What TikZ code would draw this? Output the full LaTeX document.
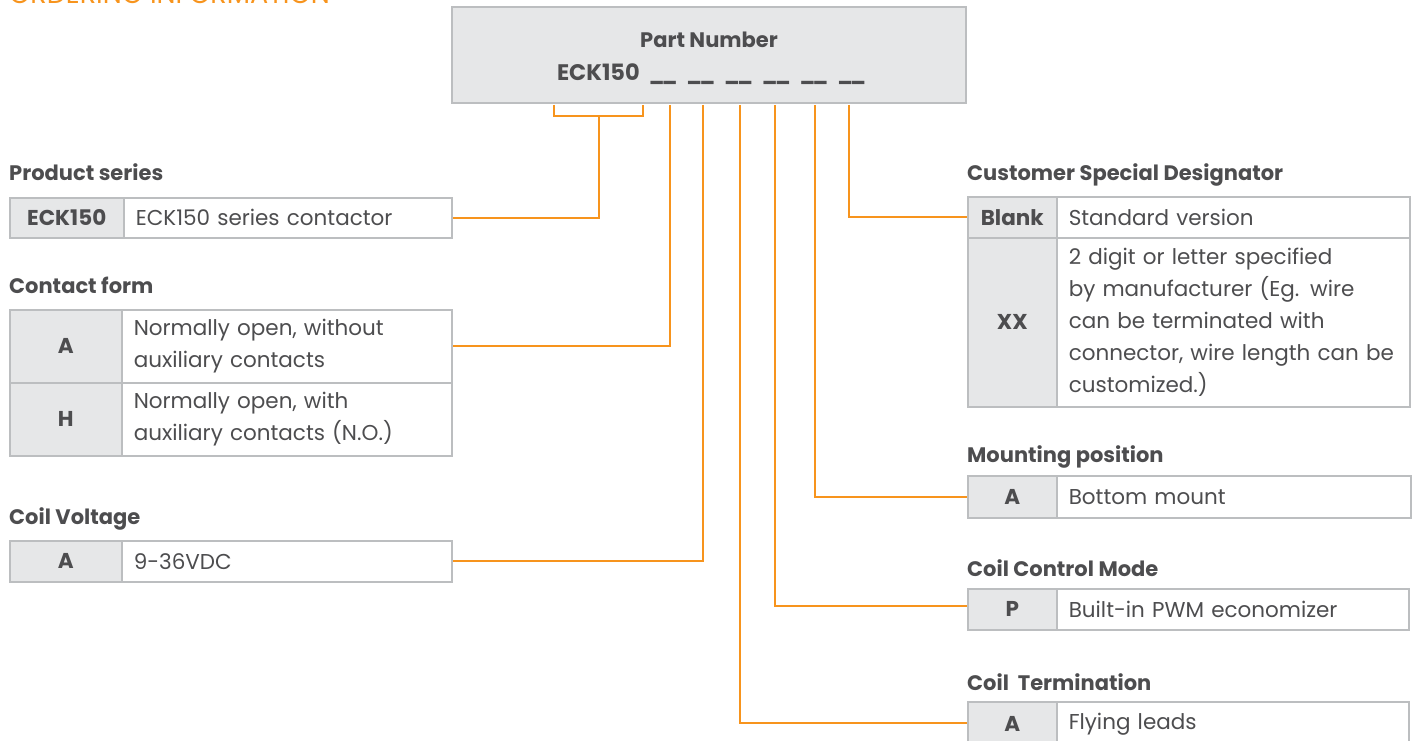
\documentclass[tikz,border=0pt]{standalone}
\usepackage{fontspec}
\setmainfont{Poppins}
\usetikzlibrary{positioning}

\definecolor{ordorange}{HTML}{F7941D}
\definecolor{keygray}{HTML}{E6E7E8}
\definecolor{cellline}{HTML}{BCBEC0}
\definecolor{ink}{HTML}{4D4D4F}

\newcommand{\cellfont}{\fontsize{21.5}{32}\selectfont}
\newcommand{\headfont}{\fontsize{21}{32}\selectfont\bfseries}
\newcommand{\blank}{{\fontsize{20}{20}\selectfont\_\kern-2.5pt\_}}

\tikzstyle{partbox} = [rectangle, minimum width=514pt, minimum height=96pt, draw=cellline, fill=keygray, line width=1.5pt]
\tikzstyle{pntext} = [anchor=base, text=ink, font=\headfont, inner sep=0pt]
\tikzstyle{head} = [anchor=base west, text=ink, font=\headfont, inner sep=0pt]
\tikzstyle{keycell} = [rectangle, anchor=north west, draw=cellline, fill=keygray, line width=1.5pt, inner sep=0pt, text=ink, font=\cellfont\bfseries]
\tikzstyle{valcell} = [rectangle, right=-1.5pt of #1, draw=cellline, line width=1.5pt, inner xsep=12pt, inner ysep=0pt, align=left, text=ink, font=\cellfont]
\tikzstyle{link} = [draw=ordorange, line width=2pt]

\begin{document}
\begin{tikzpicture}[x=1pt, y=-1pt]
	\useasboundingbox (0,0) rectangle (1414,741);
	% Title, cut by the top edge
	\node [anchor=base west, inner sep=0pt, text=ordorange, font=\fontsize{27}{27}\selectfont] (title) at (9,4) {ORDERING INFORMATION};
	% Part number
	\node [partbox] (pn) at (709,55) {};
	\node [pntext] (pnTitle) at (709,48) {Part Number};
	\node [pntext, font=\fontsize{22.5}{32}\selectfont\bfseries] (pnCode) at (711.5,81) {ECK150\hspace{9pt}\blank\hspace{9pt}\blank\hspace{9pt}\blank\hspace{9pt}\blank\hspace{9pt}\blank\hspace{9pt}\blank};
	% Left tables
	\node [head] (psHead) at (9,180) {Product series};
	\node [keycell, minimum width=114pt, minimum height=40pt] (psKey) at (9,197) {ECK150};
	\node [valcell=psKey, text width=304pt, minimum height=40pt] (psVal) {ECK150 series contactor};
	\node [head] (cfHead) at (9,293) {Contact form};
	\node [keycell, minimum width=112pt, minimum height=73pt] (cfKeyA) at (9,309) {A};
	\node [valcell=cfKeyA, text width=306pt, minimum height=73pt] (cfValA) {Normally open, without\\auxiliary contacts};
	\node [keycell, minimum width=112pt, minimum height=73pt] (cfKeyH) at (9,382) {H};
	\node [valcell=cfKeyH, text width=306pt, minimum height=73pt] (cfValH) {Normally open, with\\auxiliary contacts (N.O.)};
	\node [head] (cvHead) at (9,524) {Coil Voltage};
	\node [keycell, minimum width=112pt, minimum height=41pt] (cvKey) at (9,540) {A};
	\node [valcell=cvKey, text width=306pt, minimum height=41pt] (cvVal) {9-36VDC};
	% Right tables
	\node [head] (csHead) at (967,180) {Customer Special Designator};
	\node [keycell, minimum width=89pt, minimum height=41pt] (csKeyB) at (967,196) {Blank};
	\node [valcell=csKeyB, text width=329pt, minimum height=41pt] (csValB) {Standard version};
	\node [keycell, minimum width=89pt, minimum height=169pt] (csKeyX) at (967,237) {XX};
	\node [valcell=csKeyX, text width=329pt, minimum height=169pt] (csValX) {2 digit or letter specified\\by manufacturer (Eg. wire\\can be terminated with\\connector, wire length can be\\customized.)};
	\node [head] (mpHead) at (967,462) {Mounting position};
	\node [keycell, minimum width=89pt, minimum height=42pt] (mpKey) at (967,475) {A};
	\node [valcell=mpKey, text width=330pt, minimum height=42pt] (mpVal) {Bottom mount};
	\node [head] (ccHead) at (967,576) {Coil Control Mode};
	\node [keycell, minimum width=89pt, minimum height=41pt] (ccKey) at (967,588) {P};
	\node [valcell=ccKey, text width=328pt, minimum height=41pt] (ccVal) {Built-in PWM economizer};
	\node [head] (ctHead) at (967,690) {Coil\ \ Termination};
	\node [keycell, minimum width=89pt, minimum height=44pt] (ctKey) at (967,701) {A};
	\node [valcell=ctKey, text width=328pt, minimum height=44pt] (ctVal) {Flying leads};
	% Tap points under the part number
	\coordinate (brL) at (554,105);
	\coordinate (brR) at (643,105);
	\coordinate (brM) at (598.5,116);
	\coordinate (t1) at (670,105);
	\coordinate (t2) at (703,105);
	\coordinate (t3) at (739.5,105);
	\coordinate (t4) at (775,105);
	\coordinate (t5) at (814.5,105);
	\coordinate (t6) at (849,105);
	% Draw links
	\draw [link] (brL) |- (brM) -| (brR);
	\draw [link] (brM) |- (psVal.east);
	\draw [link] (t1) |- (cfValA.east);
	\draw [link] (t2) |- (cvVal.east);
	\draw [link] (t3) |- ([yshift=1pt]ctKey.west);
	\draw [link] (t4) |- ([yshift=3.5pt]ccKey.west);
	\draw [link] (t5) |- (mpKey.west);
	\draw [link] (t6) |- (csKeyB.west);
\end{tikzpicture}
\end{document}
